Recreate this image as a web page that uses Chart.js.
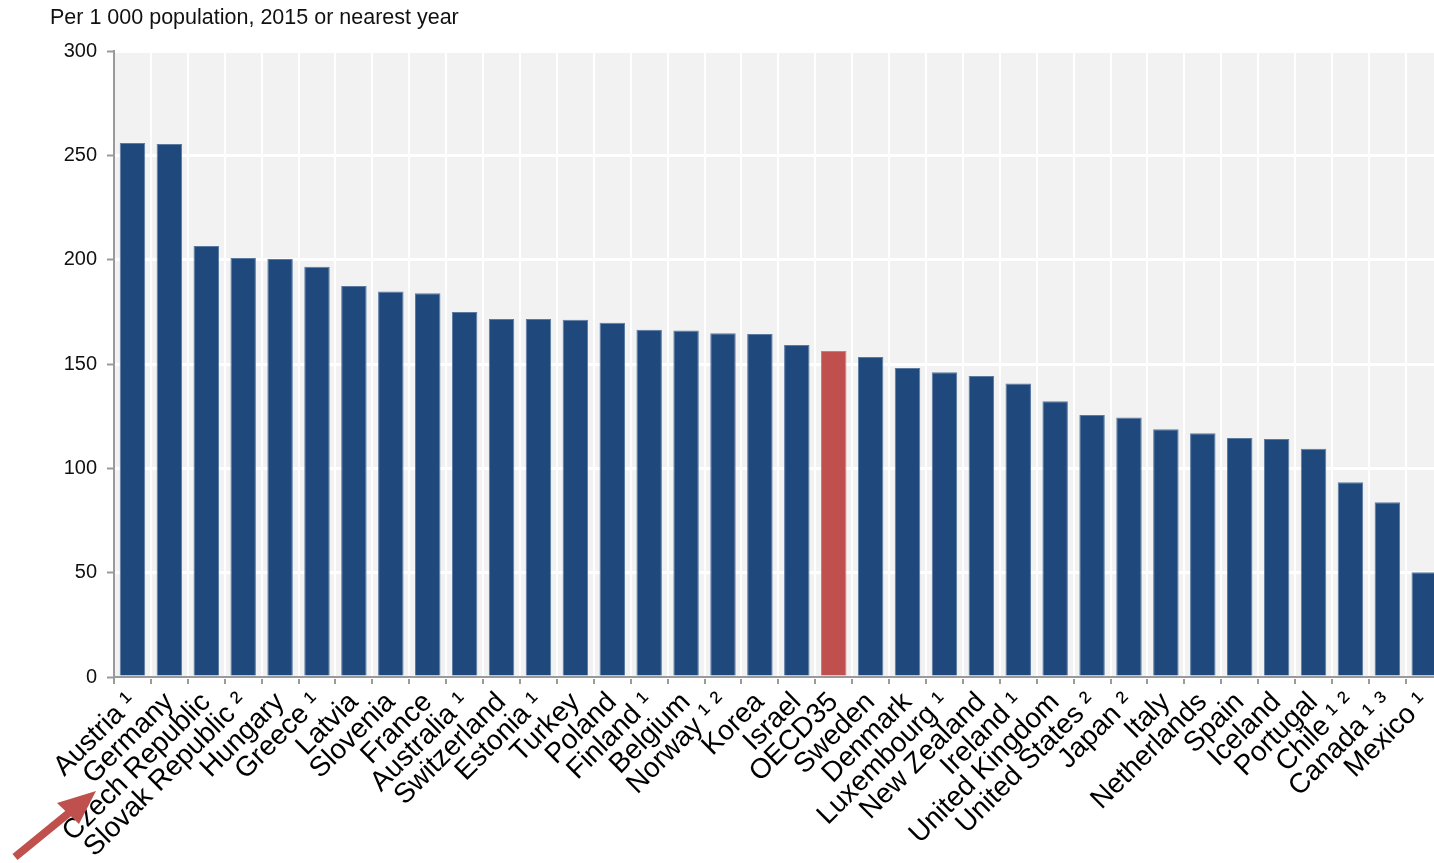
<!DOCTYPE html>
<html>
<head>
<meta charset="utf-8">
<script src="https://cdn.jsdelivr.net/npm/chart.js@4"></script>
<style>
  html, body { margin: 0; padding: 0; background: #ffffff; overflow: hidden; }
  #wrap { position: relative; width: 1434px; height: 863px; overflow: hidden; }
  canvas { display: block; }
</style>
</head>
<body>
<div id="wrap"><canvas id="chart" width="1450" height="863"></canvas></div>
<script>
// Countries, with footnote markers, sorted by rate
const countries = [
  "Austria ¹", "Germany", "Czech Republic", "Slovak Republic ²", "Hungary", "Greece ¹",
  "Latvia", "Slovenia", "France", "Australia ¹", "Switzerland", "Estonia ¹",
  "Turkey", "Poland", "Finland ¹", "Belgium", "Norway ¹ ²", "Korea",
  "Israel", "OECD35", "Sweden", "Denmark", "Luxembourg ¹", "New Zealand",
  "Ireland ¹", "United Kingdom", "United States ²", "Japan ²", "Italy", "Netherlands",
  "Spain", "Iceland", "Portugal", "Chile ¹ ²", "Canada ¹ ³", "Mexico ¹"
];

// Per 1 000 population, 2015 or nearest year
const ratePer1000 = [
  255.9, 255.4, 206.5, 200.8, 200.3, 196.6,
  187.4, 184.8, 183.9, 174.9, 171.6, 171.6,
  171.2, 169.8, 166.4, 166.0, 164.7, 164.4,
  159.1, 156.2, 153.4, 148.1, 146.0, 144.2,
  140.7, 132.1, 125.6, 124.4, 118.7, 116.8,
  114.5, 114.1, 109.4, 93.3, 83.7, 50.2
];

const yTicks = [0, 50, 100, 150, 200, 250, 300];
const subtitle = "Per 1 000 population, 2015 or nearest year";

const BLUE = "#1f497d";
const RED = "#c0504d";
const barColors = countries.map(c => c === "OECD35" ? RED : BLUE);
const barEdges = countries.map(c => c === "OECD35" ? "#d27a77" : "#5a7aa2");

// Light grey plot background, subtitle and pointer arrow
const decor = {
  id: "decor",
  beforeDraw(chart) {
    const { ctx, chartArea: a } = chart;
    ctx.save();
    ctx.fillStyle = "#f2f2f2";
    ctx.fillRect(a.left, a.top, a.right - a.left, a.bottom - a.top);
    ctx.restore();
  },
  afterDraw(chart) {
    const { ctx } = chart;
    ctx.save();
    ctx.fillStyle = "#111111";
    ctx.font = "21.5px 'Liberation Sans', Arial, sans-serif";
    ctx.textBaseline = "alphabetic";
    ctx.textAlign = "left";
    ctx.fillText(subtitle, 50, 24);

    // arrow pointing at Germany
    ctx.strokeStyle = RED;
    ctx.fillStyle = RED;
    ctx.lineWidth = 8;
    ctx.lineCap = "butt";
    ctx.beginPath();
    ctx.moveTo(15, 857);
    ctx.lineTo(75, 808);
    ctx.stroke();
    ctx.beginPath();
    ctx.moveTo(96, 791);
    ctx.lineTo(57, 803);
    ctx.lineTo(79, 824);
    ctx.closePath();
    ctx.fill();
    ctx.restore();
  }
};

new Chart(document.getElementById("chart"), {
  type: "bar",
  data: {
    labels: countries,
    datasets: [{
      data: ratePer1000,
      backgroundColor: barColors,
      borderColor: barEdges,
      borderWidth: 1,
      borderSkipped: "bottom",
      barPercentage: 0.69,
      categoryPercentage: 1.0
    }]
  },
  options: {
    responsive: false,
    animation: false,
    devicePixelRatio: 1,
    layout: { padding: { top: 51, left: 0, right: 0, bottom: 0 } },
    plugins: {
      legend: { display: false },
      title: { display: false },
      tooltip: { enabled: false }
    },
    scales: {
      x: {
        offset: true,
        grid: {
          offset: true,
          color: "#ffffff",
          lineWidth: 2,
          drawTicks: true,
          tickLength: 7,
          tickColor: "#9a9a9a",
          tickWidth: 2
        },
        border: { display: true, color: "#9a9a9a", width: 2 },
        ticks: {
          autoSkip: false,
          maxRotation: 45,
          minRotation: 45,
          padding: 2,
          color: "#000000",
          font: { family: "'Liberation Sans', Arial, sans-serif", size: 28 }
        },
        afterFit(scale) { scale.height = 186; }
      },
      y: {
        min: 0,
        max: 300,
        afterBuildTicks(scale) { scale.ticks = yTicks.map(v => ({ value: v })); },
        grid: {
          color: "#ffffff",
          lineWidth: 3,
          drawTicks: true,
          tickLength: 7,
          tickColor: "#9a9a9a",
          tickWidth: 2
        },
        border: { display: true, color: "#9a9a9a", width: 2 },
        ticks: {
          padding: 10,
          color: "#111111",
          font: { family: "'Liberation Sans', Arial, sans-serif", size: 20 }
        },
        afterFit(scale) { scale.width = 114; }
      }
    }
  },
  plugins: [decor]
});
</script>
</body>
</html>
